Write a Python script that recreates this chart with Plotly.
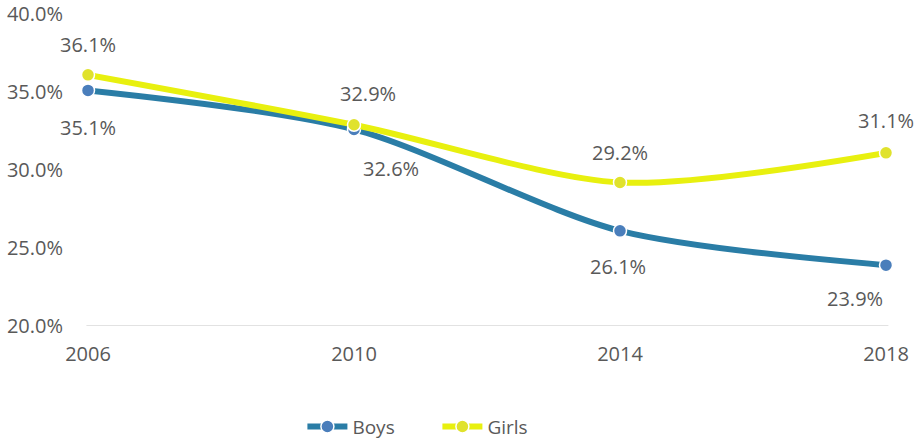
import plotly.graph_objects as go

years = ["2006", "2010", "2014", "2018"]
boys = [35.1, 32.6, 26.1, 23.9]
girls = [36.1, 32.9, 29.2, 31.1]
y_ticks = [20, 25, 30, 35, 40]

boys_line = "#2A7DA6"
boys_marker = "#4A7EBB"
girls_line = "#E8F00F"
girls_marker = "#E0E22C"
txt = "#595959"
FONT = "Open Sans"
FS = 20

fig = go.Figure()
fig.add_trace(go.Scatter(
    x=years, y=boys, name="Boys", mode="lines+markers",
    line=dict(color=boys_line, width=6, shape="spline", smoothing=0.8),
    marker=dict(color=boys_marker, size=13, line=dict(color="white", width=1.5)),
    cliponaxis=False,
))
fig.add_trace(go.Scatter(
    x=years, y=girls, name="Girls", mode="lines+markers",
    line=dict(color=girls_line, width=6, shape="spline", smoothing=0.8),
    marker=dict(color=girls_marker, size=13, line=dict(color="white", width=1.5)),
    cliponaxis=False,
))

# label offsets (pixels) : girls above, boys below
girls_off = [(0, 30), (14, 31), (0, 30), (0, 32)]
boys_off = [(0, -37), (37, -39), (-2, -36), (-31, -33)]
for i, (v, (dx, dy)) in enumerate(zip(girls, girls_off)):
    fig.add_annotation(x=i, y=v, xref="x", yref="y", text=f"{v:.1f}%", showarrow=False,
                       xshift=dx, yshift=dy, font=dict(size=FS, color=txt, family=FONT))
for i, (v, (dx, dy)) in enumerate(zip(boys, boys_off)):
    fig.add_annotation(x=i, y=v, xref="x", yref="y", text=f"{v:.1f}%", showarrow=False,
                       xshift=dx, yshift=dy, font=dict(size=FS, color=txt, family=FONT))

fig.update_layout(
    width=917, height=439,
    margin=dict(l=88, r=31, t=14, b=113, autoexpand=False),
    paper_bgcolor="white", plot_bgcolor="white",
    font=dict(family=FONT, size=FS, color=txt),
    showlegend=True,
    legend=dict(orientation="h", xref="container", x=0.477, xanchor="center",
                yref="container", y=0.028, yanchor="middle",
                font=dict(size=19, color=txt, family=FONT), itemwidth=40,
                entrywidth=80, entrywidthmode="pixels"),
    xaxis=dict(type="category", range=[0, 3], showgrid=False, zeroline=False,
               showline=False, ticks="", tickfont=dict(size=FS, color=txt),
               ticklabelstandoff=14),
    yaxis=dict(range=[20, 40], tickvals=y_ticks, ticktext=[f"{t:.1f}%" for t in y_ticks],
               showgrid=False, zeroline=False, showline=False, ticks="",
               tickfont=dict(size=FS, color=txt), ticklabelstandoff=24,
               ticklabeloverflow="allow"),
    shapes=[dict(type="line", xref="paper", yref="y", x0=-0.002, x1=1.003, y0=20, y1=20,
                 line=dict(color="#D9D9D9", width=1.5), layer="below")],
)

fig.write_html("out.html", config={"displayModeBar": False},
               post_script="document.body.style.margin='0';")
